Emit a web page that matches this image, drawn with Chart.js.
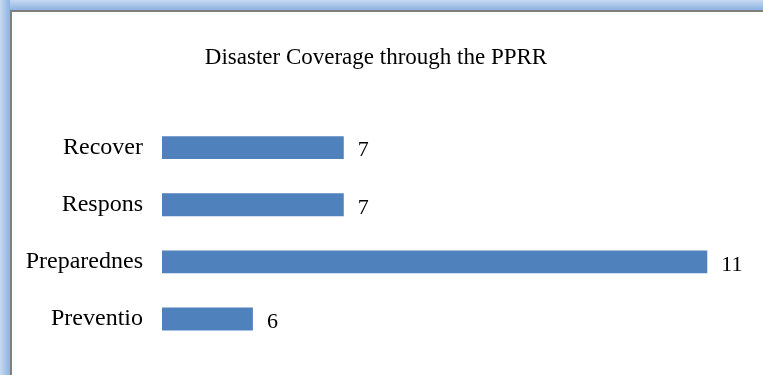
<!DOCTYPE html>
<html>
<head>
<meta charset="utf-8">
<script src="https://cdn.jsdelivr.net/npm/chart.js@4"></script>
<style>
  html, body { margin: 0; padding: 0; background: #fff; }
  .frame {
    position: relative;
    width: 763px;
    height: 375px;
    overflow: hidden;
  }
  .frame .top {
    position: absolute; left: 0; top: 0; width: 763px; height: 10px;
    background: linear-gradient(to bottom, #c6d9f1, #8db3e2);
  }
  .frame .left {
    position: absolute; left: 0; top: 0; width: 10px; height: 375px;
    background: linear-gradient(to right, #c6d9f1, #8db3e2);
  }
  .frame .inner {
    position: absolute; left: 10px; top: 10px; width: 753px; height: 365px;
    border-top: 2px solid #7f7f7f;
    border-left: 2px solid #7f7f7f;
    background: #fff;
  }
  #chart { position: absolute; left: 12px; top: 12px; }
</style>
</head>
<body>
<div class="frame">
  <div class="top"></div>
  <div class="left"></div>
  <div class="inner"></div>
  <canvas id="chart" width="751" height="369"></canvas>
</div>
<script>
const categories = ['Recover', 'Respons', 'Preparednes', 'Preventio'];
const coverage = [7, 7, 11, 6];
const chartTitle = 'Disaster Coverage through the PPRR';

const serif = "'Liberation Serif', 'DejaVu Serif', serif";

// prints each bar's value just past its end
const valueLabels = {
  id: 'valueLabels',
  afterDatasetsDraw(chart) {
    const ctx = chart.ctx;
    const meta = chart.getDatasetMeta(0);
    ctx.save();
    ctx.font = '22px ' + serif;
    ctx.fillStyle = '#000';
    ctx.textAlign = 'left';
    ctx.textBaseline = 'middle';
    meta.data.forEach((bar, i) => {
      ctx.fillText(String(coverage[i]), bar.x + 14, bar.y + 3);
    });
    ctx.restore();
  }
};

new Chart(document.getElementById('chart'), {
  type: 'bar',
  data: {
    labels: categories,
    datasets: [{
      data: coverage,
      backgroundColor: '#4f81bd',
      borderWidth: 0,
      barPercentage: 0.8,
      categoryPercentage: 0.5
    }]
  },
  options: {
    indexAxis: 'y',
    responsive: false,
    animation: false,
    layout: { padding: { left: 0, right: 23, top: 0, bottom: 15 } },
    plugins: {
      legend: { display: false },
      tooltip: { enabled: false },
      title: {
        display: true,
        text: chartTitle,
        color: '#000',
        font: { family: serif, size: 23, weight: 'normal' },
        padding: { top: 32, bottom: 47.5 }
      }
    },
    scales: {
      x: {
        display: false,
        min: 5,
        max: 11.36
      },
      y: {
        afterFit(scale) { scale.width = 150; },
        grid: { display: false, drawTicks: false },
        border: { display: false },
        ticks: {
          color: '#000',
          padding: 19,
          font: { family: serif, size: 24 }
        }
      }
    }
  },
  plugins: [valueLabels]
});
</script>
</body>
</html>
